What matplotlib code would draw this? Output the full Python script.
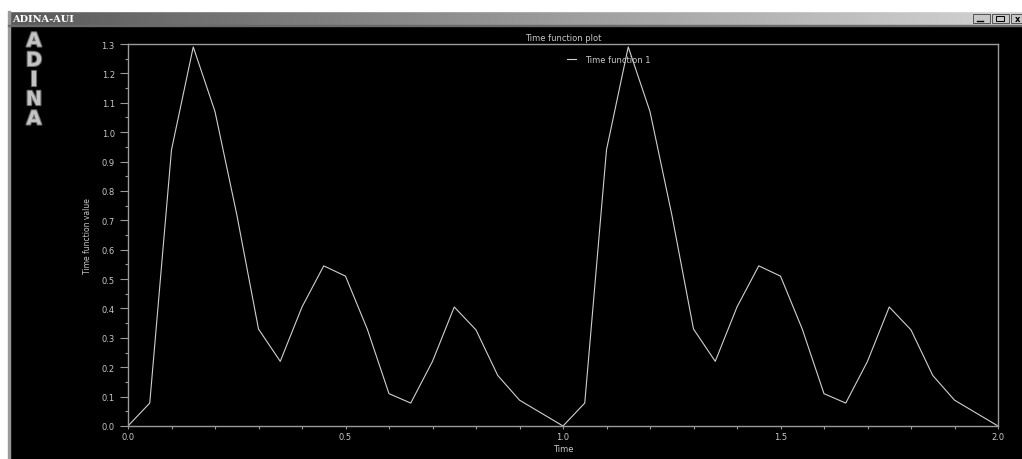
import numpy as np
import matplotlib
matplotlib.use("Agg")
import matplotlib.pyplot as plt
import matplotlib.patheffects as pe
from matplotlib.patches import Rectangle
from matplotlib.ticker import MultipleLocator

# time samples and function values
time = [0.00, 0.05, 0.10, 0.15, 0.20, 0.25, 0.30, 0.35, 0.40, 0.45,
        0.50, 0.55, 0.60, 0.65, 0.70, 0.75, 0.80, 0.85, 0.90, 0.95,
        1.00, 1.05, 1.10, 1.15, 1.20, 1.25, 1.30, 1.35, 1.40, 1.45,
        1.50, 1.55, 1.60, 1.65, 1.70, 1.75, 1.80, 1.85, 1.90, 1.95, 2.00]
value = [0.0, 0.078, 0.94, 1.29, 1.07, 0.72, 0.33, 0.22, 0.405, 0.545,
         0.51, 0.33, 0.11, 0.078, 0.22, 0.405, 0.327, 0.172, 0.088, 0.044,
         0.0, 0.078, 0.94, 1.29, 1.07, 0.72, 0.33, 0.22, 0.405, 0.545,
         0.51, 0.33, 0.11, 0.078, 0.22, 0.405, 0.327, 0.172, 0.088, 0.044, 0.0]

series_name = "Time function 1"
title = "Time function plot"
x_label = "Time"
y_label = "Time function value"
logo = ["A", "D", "I", "N", "A"]

W, H = 1022, 460
txt = "#c8c8c8"
axcol = "#9a9a9a"

fig = plt.figure(figsize=(W / 100, H / 100), dpi=100, facecolor="black")

# window chrome drawn in pixel coords
bg = fig.add_axes([0, 0, 1, 1], zorder=0)
bg.set_xlim(0, W)
bg.set_ylim(H, 0)
bg.axis("off")
bg.add_patch(Rectangle((0, 0), W, 12, color="white"))
bg.add_patch(Rectangle((0, 0), 8, H, color="white"))
bg.add_patch(Rectangle((8, 12), 2, H, color="#9a9a9a"))
grad = np.linspace(0, 1, 256).reshape(1, -1)
bg.imshow(grad, extent=(8, W, 25.5, 12.5), aspect="auto",
          cmap=matplotlib.colors.LinearSegmentedColormap.from_list("tb", ["#5a5a5a", "#d4d4d4"]))
bg.add_patch(Rectangle((8, 25.5), W, 1.5, color="#6a6a6a"))
bg.text(12, 19, "ADINA-AUI", color="white", fontsize=7, fontweight="bold",
        family="DejaVu Serif", va="center", ha="left")
for bx in [973, 992, 1011]:
    bg.add_patch(Rectangle((bx, 14.5), 17, 9, facecolor="#c8c8c8", edgecolor="#404040", lw=0.6))
bg.plot([977, 983], [21.5, 21.5], color="black", lw=1)
bg.add_patch(Rectangle((996, 16.5), 8, 5.5, facecolor="none", edgecolor="black", lw=0.7))
bg.text(1015, 19, "x", fontsize=6, fontweight="bold", va="center", ha="left")
for i, ch in enumerate(logo):
    bg.text(34, 42 + i * 19.5, ch, color="#c4c4c4", fontsize=14, fontweight="bold",
            ha="center", va="center",
            path_effects=[pe.withStroke(linewidth=1.6, foreground="#6a6a6a")])

# main plot
ax = fig.add_axes([128 / W, 1 - 427 / H, 870 / W, 382 / H], zorder=1)
ax.set_facecolor("black")
ax.plot(time, value, color="#d0d0d0", lw=0.8, label=series_name)
ax.set_xlim(0, 2.0)
ax.set_ylim(0, 1.3)
for s in ax.spines.values():
    s.set_color(axcol)
    s.set_linewidth(1)

ax.xaxis.set_major_locator(MultipleLocator(0.5))
ax.xaxis.set_minor_locator(MultipleLocator(0.1))
ax.yaxis.set_major_locator(MultipleLocator(0.1))
ax.yaxis.set_minor_locator(MultipleLocator(0.05))
ax.tick_params(axis="y", which="major", length=6, width=0.8, color=axcol,
               labelcolor=txt, labelsize=6, pad=3.5)
ax.tick_params(axis="y", which="minor", length=2, width=0.8, color=axcol)
ax.tick_params(axis="x", which="both", length=2, width=0.8, color=axcol,
               labelcolor=txt, labelsize=6, pad=2)
ax.xaxis.set_major_formatter(matplotlib.ticker.FormatStrFormatter("%.1f"))
ax.yaxis.set_major_formatter(matplotlib.ticker.FormatStrFormatter("%.1f"))

ax.set_title(title, color=txt, fontsize=6, pad=3)
ax.set_xlabel(x_label, color=txt, fontsize=6)
ax.xaxis.set_label_coords(0.5, -0.047)
ax.set_ylabel(y_label, color=txt, fontsize=5.5)
ax.yaxis.set_label_coords(-0.041, 0.5)

ax.legend(loc="upper left", bbox_to_anchor=(0.5, 0.982), frameon=False,
          fontsize=6, labelcolor=txt, borderpad=0, handlelength=1.0,
          handletextpad=1.1)

fig.savefig("out.png", dpi=100, facecolor="black")
